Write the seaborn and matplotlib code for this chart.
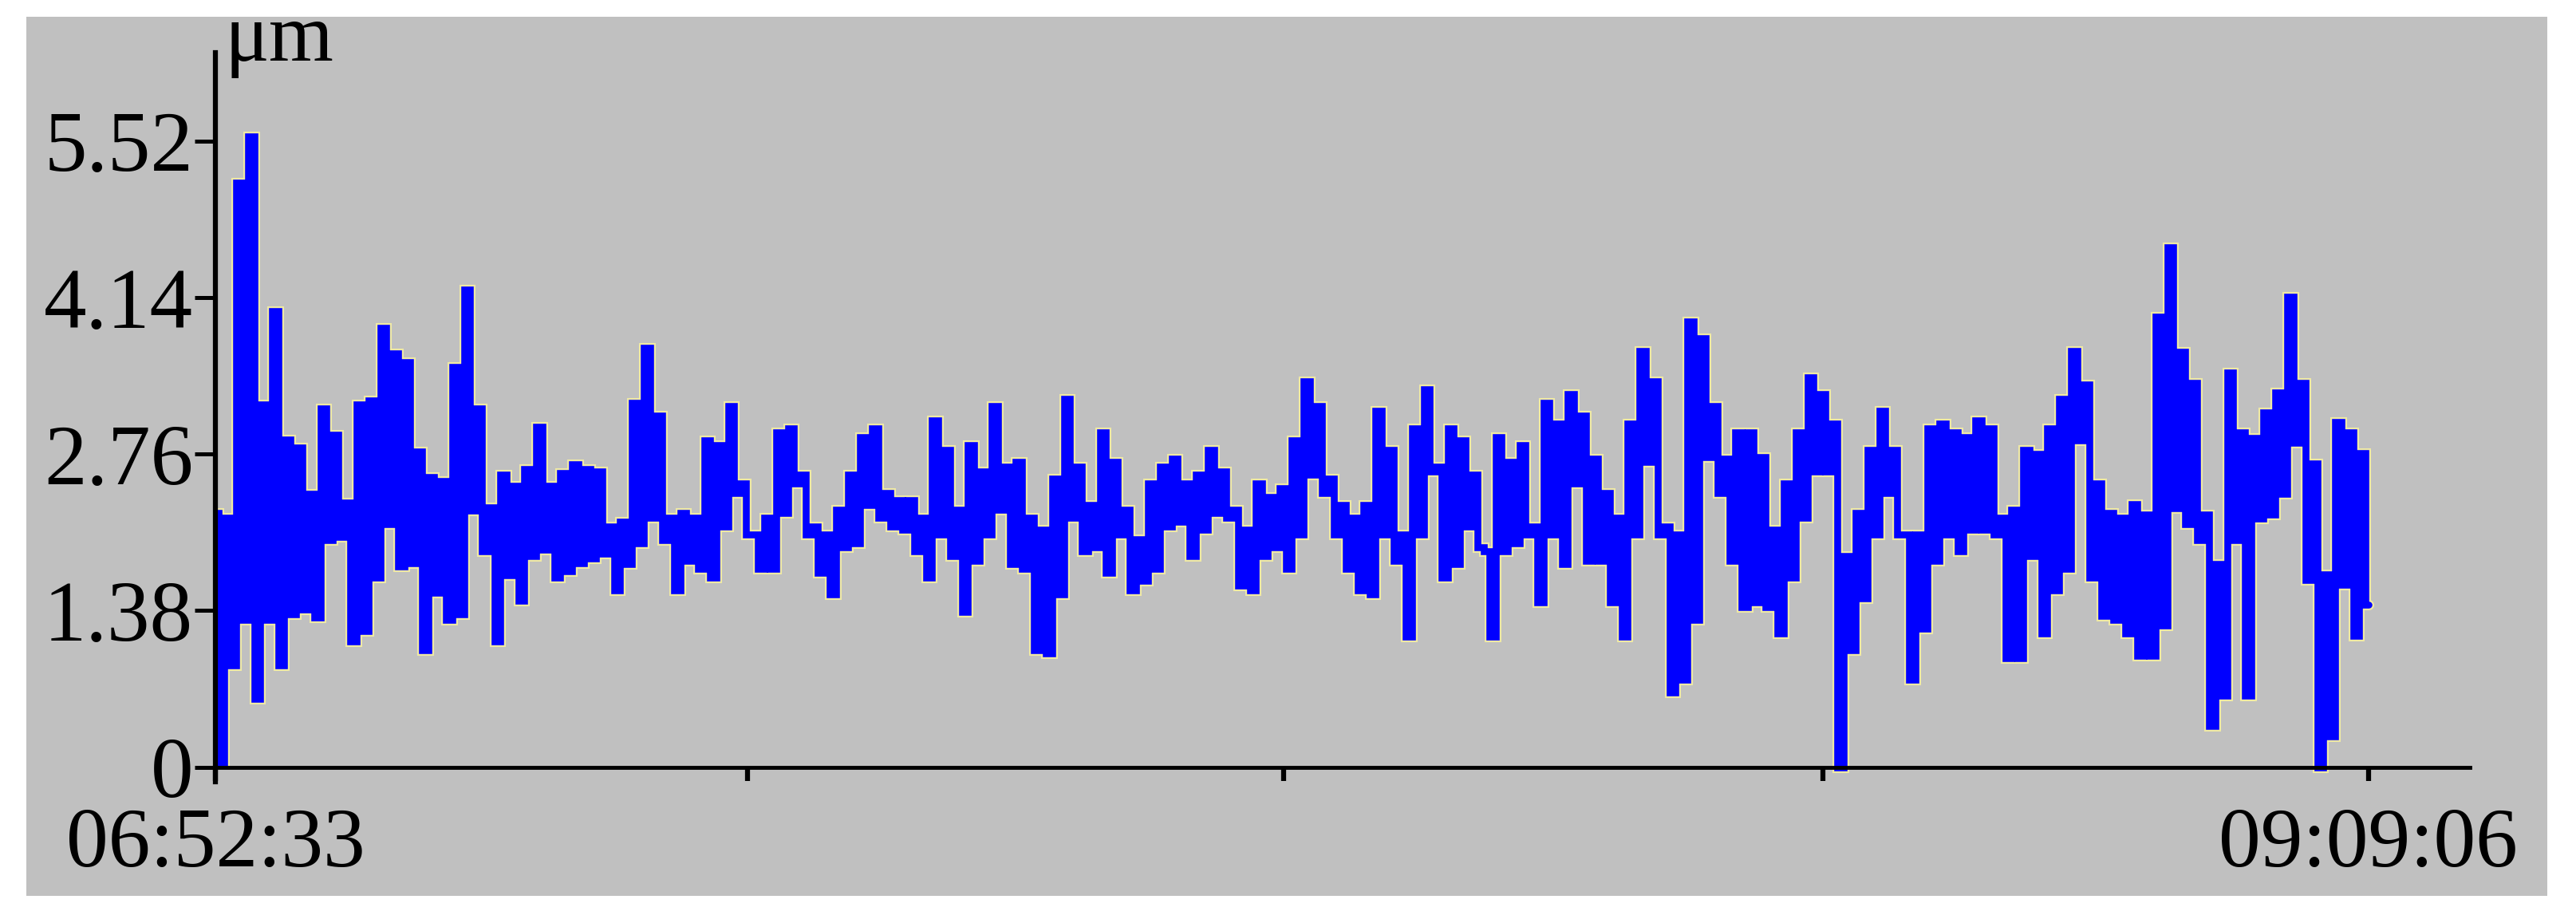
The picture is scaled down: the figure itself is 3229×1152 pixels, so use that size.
import numpy as np
import pandas as pd
import matplotlib
matplotlib.use("Agg")
import matplotlib.pyplot as plt
import seaborn as sns
from matplotlib import patheffects as pe
from matplotlib.patches import Rectangle

# ---- data (upper / lower value of each short time slot, µm) ----
upper_um = [
    2.24, 2.2, 5.15, 5.56, 3.2, 4.02, 2.89, 2.82, 2.41, 3.16,
    2.93, 2.33, 3.2, 3.23, 3.87, 3.65, 3.57, 2.78, 2.56, 2.52,
    3.53, 4.21, 3.16, 2.29, 2.58, 2.48, 2.63, 3.0, 2.48, 2.59,
    2.67, 2.63, 2.61, 2.12, 2.16, 3.21, 3.7, 3.1, 2.2, 2.24,
    2.2, 2.88, 2.84, 3.18, 2.5, 2.05, 2.2, 2.95, 2.99, 2.58,
    2.12, 2.05, 2.27, 2.58, 2.91, 2.99, 2.42, 2.35, 2.35, 2.2,
    3.06, 2.8, 2.27, 2.84, 2.61, 3.18, 2.65, 2.69, 2.2, 2.09,
    2.54, 3.25, 2.65, 2.31, 2.95, 2.69, 2.27, 2.01, 2.5, 2.65,
    2.72, 2.5, 2.58, 2.8, 2.61, 2.27, 2.09, 2.5, 2.38, 2.46,
    2.88, 3.4, 3.18, 2.54, 2.31, 2.2, 2.31, 3.14, 2.8, 2.05,
    2.99, 3.33, 2.65, 2.99, 2.88, 2.58, 1.9, 2.91, 2.69, 2.84,
    2.12, 3.21, 3.03, 3.29, 3.1, 2.72, 2.42, 2.2, 3.03, 3.67,
    3.4, 2.12, 2.05, 3.93, 3.78, 3.18, 2.72, 2.95, 2.95, 2.73,
    2.09, 2.5, 2.95, 3.44, 3.29, 3.03, 1.86, 2.24, 2.8, 3.14,
    2.8, 2.05, 2.05, 2.99, 3.03, 2.95, 2.91, 3.06, 2.99, 2.2,
    2.27, 2.8, 2.76, 2.99, 3.25, 3.67, 3.37, 2.5, 2.24, 2.2,
    2.32, 2.23, 3.97, 4.58, 3.66, 3.39, 2.23, 1.79, 3.48, 2.95,
    2.9, 3.13, 3.3, 4.15, 3.39, 2.68, 1.7, 3.04, 2.95, 2.77,
]
lower_um = [
    0.04, 0.9, 1.3, 0.6, 1.3, 0.9, 1.35, 1.39, 1.32, 2.0,
    2.03, 1.11, 1.2, 1.67, 2.14, 1.77, 1.8, 1.03, 1.54, 1.3,
    1.35, 2.26, 1.9, 1.11, 1.69, 1.47, 1.86, 1.92, 1.67, 1.73,
    1.8, 1.84, 1.88, 1.56, 1.79, 1.97, 2.2, 2.0, 1.56, 1.82,
    1.75, 1.67, 2.12, 2.42, 2.05, 1.75, 1.75, 2.24, 2.5, 2.05,
    1.71, 1.52, 1.94, 1.97, 2.31, 2.2, 2.12, 2.09, 1.9, 1.67,
    2.05, 1.86, 1.37, 1.82, 2.05, 2.27, 1.79, 1.75, 1.03, 1.0,
    1.52, 2.2, 1.9, 1.94, 1.71, 2.05, 1.56, 1.64, 1.75, 2.12,
    2.16, 1.86, 2.09, 2.24, 2.2, 1.6, 1.56, 1.86, 1.94, 1.75,
    2.05, 2.58, 2.42, 2.05, 1.75, 1.56, 1.52, 2.05, 1.82, 1.15,
    2.05, 2.61, 1.67, 1.79, 2.12, 1.94, 1.15, 1.9, 1.97, 2.05,
    1.45, 2.05, 1.79, 2.5, 1.82, 1.82, 1.45, 1.15, 2.05, 2.69,
    2.05, 0.66, 0.77, 1.3, 2.73, 2.42, 1.82, 1.41, 1.45, 1.41,
    1.18, 1.67, 2.2, 2.61, 2.61, 0.0, 1.03, 1.49, 2.05, 2.42,
    2.05, 0.77, 1.22, 1.82, 2.05, 1.9, 2.09, 2.09, 2.05, 0.96,
    0.96, 1.86, 1.18, 1.56, 1.75, 2.88, 1.67, 1.33, 1.3, 1.18,
    0.98, 0.98, 1.25, 2.28, 2.14, 2.0, 0.36, 0.63, 2.0, 0.63,
    2.19, 2.23, 2.41, 2.86, 1.65, 0.0, 0.27, 1.61, 1.16, 1.43,
]
y_ticks = [0, 1.38, 2.76, 4.14, 5.52]
y_tick_labels = ["0", "1.38", "2.76", "4.14", "5.52"]
x_tick_fracs = [0.0, 0.2473, 0.4962, 0.7466, 1.0]
x_tick_labels = ["06:52:33", "", "", "", "09:09:06"]
start_time = "06:52:33"
end_time = "09:09:06"
unit_label = "\u03bcm"

# ---- styling ----
sns.set_theme(style="white")
plt.rcParams['font.family'] = ['Liberation Serif', 'DejaVu Serif']

def to_sec(s):
    h, m, sec = map(int, s.split(":"))
    return h * 3600 + m * 60 + sec

duration = to_sec(end_time) - to_sec(start_time)
values = np.column_stack([upper_um, lower_um]).ravel()
t = np.linspace(0, duration, len(values))
df = pd.DataFrame({"t": t, "um": values})

W, H = 3230, 1152
fig = plt.figure(figsize=(W / 100, H / 100), dpi=100, facecolor="white")
bg = Rectangle((33 / W, 29 / H), 3160 / W, 1102 / H,
               transform=fig.transFigure, facecolor="#c0c0c0",
               edgecolor="none", zorder=-10)
fig.patches.append(bg)

ax_left, ax_right = 270 / W, 3096 / W
ax_bottom, ax_top = (H - 980) / H, (H - 66) / H
ax = fig.add_axes([ax_left, ax_bottom, ax_right - ax_left, ax_top - ax_bottom])
ax.set_facecolor("none")
ax.set_zorder(5)

sns.lineplot(data=df, x="t", y="um", ax=ax, color="#0000ff", linewidth=6.2,
             estimator=None, sort=False, drawstyle="steps-mid")
line = ax.lines[0]
line.set_solid_joinstyle("miter")
line.set_path_effects([pe.Stroke(linewidth=9.4, foreground="#efe9a4"), pe.Normal()])

xmax = duration * (3096 - 270) / (2968.5 - 270)
ax.set_xlim(0, xmax)
ax.set_ylim(-0.13, 6.30)

for s in ["top", "right"]:
    ax.spines[s].set_visible(False)
ax.spines["left"].set_linewidth(4.5)
ax.spines["left"].set_color("black")
ax.spines["bottom"].set_linewidth(3.5)
ax.spines["bottom"].set_color("black")
ax.spines["bottom"].set_position(("data", 0))

ax.set_yticks(y_ticks)
ax.set_yticklabels(y_tick_labels)
ax.set_xticks([f * duration for f in x_tick_fracs])
ax.set_xticklabels(x_tick_labels)
ax.tick_params(axis="y", direction="out", length=19, width=3.6, pad=1,
               labelsize=77, colors="black", left=True)
ax.tick_params(axis="x", direction="out", length=12, width=4.5, pad=25,
               labelsize=76, colors="black", bottom=True)
ax.set_xlabel("")
ax.set_ylabel("")
ax.grid(False)

fig.text(282 / W, (H - 76) / H, unit_label, fontsize=75, color="black",
         ha="left", va="baseline", family=['Liberation Serif', 'DejaVu Serif'],
         zorder=6)

fig.savefig("out.png", dpi=100, facecolor="white")
